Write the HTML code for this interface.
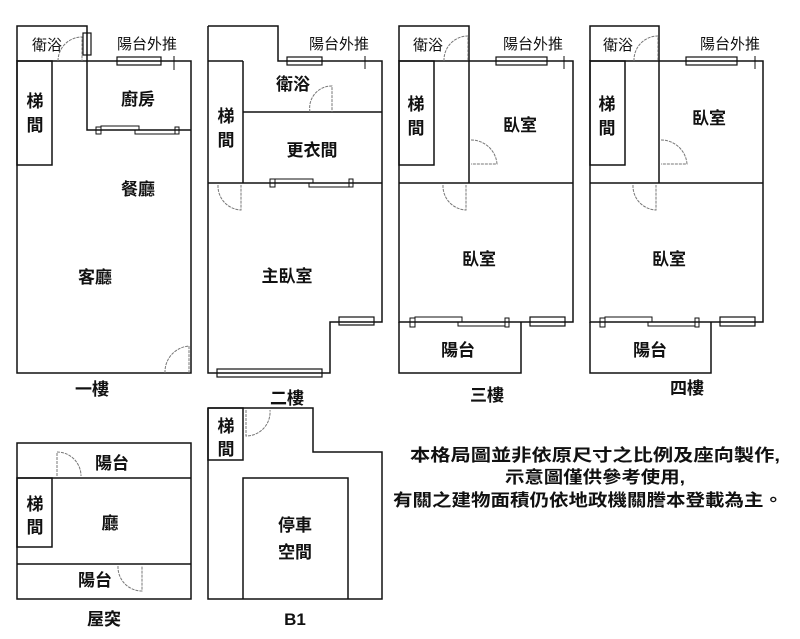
<!DOCTYPE html>
<html><head><meta charset="utf-8"><style>
html,body{margin:0;padding:0;background:#fff;}
svg{display:block}
text{font-family:"Liberation Sans","Noto Sans CJK TC",sans-serif;fill:#111;}
.l{font-size:17px;font-weight:bold;text-anchor:middle}
.s{font-size:15px;text-anchor:middle}
</style></head><body>
<svg width="800" height="639" viewBox="0 0 800 639" xmlns="http://www.w3.org/2000/svg">
<g fill="none" stroke="#111" stroke-width="1.5">
<!-- Plan 1 -->
<rect x="17" y="61" width="174" height="312"/>
<polyline points="17,61 17,26 87,26 87,130 191,130"/>
<rect x="17" y="61" width="35" height="104"/>
<rect x="117" y="57" width="44" height="8" stroke-width="1.2"/>
<line x1="174" y1="56" x2="174" y2="70" stroke-width="1"/>
<rect x="83" y="33" width="8" height="22" stroke-width="1.2"/>
<rect x="96" y="127" width="5" height="7" stroke-width="1"/>
<rect x="101" y="126" width="38" height="4" stroke-width="1"/>
<rect x="135" y="130" width="40" height="4" stroke-width="1"/>
<rect x="175" y="127" width="4" height="7" stroke-width="1"/>
<!-- Plan 2 -->
<polyline points="208,26 278,26 278,61 382,61 382,322 330,322 330,373 208,373 208,26"/>
<line x1="208" y1="61" x2="243" y2="61"/>
<line x1="243" y1="61" x2="243" y2="183"/>
<line x1="243" y1="112" x2="382" y2="112"/>
<line x1="208" y1="183" x2="382" y2="183"/>
<rect x="287" y="57" width="35" height="8" stroke-width="1.2"/>
<line x1="365" y1="56" x2="365" y2="69" stroke-width="1"/>
<rect x="217" y="369" width="105" height="8" stroke-width="1.2"/>
<rect x="339" y="317" width="35" height="8" stroke-width="1.2"/>
<rect x="270" y="179" width="5" height="8" stroke-width="1"/>
<rect x="275" y="179" width="38" height="4" stroke-width="1"/>
<rect x="309" y="183" width="40" height="4" stroke-width="1"/>
<rect x="349" y="179" width="4" height="8" stroke-width="1"/>
<!-- Plan 3 -->
<rect x="399" y="61" width="174" height="261"/>
<polyline points="399,61 399,26 469,26 469,183"/>
<line x1="399" y1="183" x2="573" y2="183"/>
<rect x="399" y="61" width="35" height="104"/>
<polyline points="399,322 399,373 521,373 521,322"/>
<rect x="496" y="57" width="51" height="8" stroke-width="1.2"/>
<line x1="564" y1="56" x2="564" y2="69" stroke-width="1"/>
<rect x="530" y="317" width="35" height="9" stroke-width="1.2"/>
<rect x="410" y="318" width="5" height="9" stroke-width="1"/>
<rect x="415" y="317" width="47" height="5" stroke-width="1"/>
<rect x="458" y="322" width="47" height="4" stroke-width="1"/>
<rect x="505" y="318" width="4" height="9" stroke-width="1"/>
<!-- Plan 4 -->
<rect x="590" y="61" width="173" height="261"/>
<polyline points="590,61 590,26 659,26 659,183"/>
<line x1="590" y1="183" x2="763" y2="183"/>
<rect x="590" y="61" width="35" height="104"/>
<polyline points="590,322 590,373 711,373 711,322"/>
<rect x="686" y="57" width="51" height="8" stroke-width="1.2"/>
<line x1="755" y1="56" x2="755" y2="69" stroke-width="1"/>
<rect x="720" y="317" width="35" height="9" stroke-width="1.2"/>
<rect x="600" y="318" width="5" height="9" stroke-width="1"/>
<rect x="605" y="317" width="47" height="5" stroke-width="1"/>
<rect x="648" y="322" width="47" height="4" stroke-width="1"/>
<rect x="695" y="318" width="4" height="9" stroke-width="1"/>
<!-- 屋突 -->
<rect x="17" y="443" width="174" height="156"/>
<line x1="17" y1="478" x2="191" y2="478"/>
<line x1="17" y1="564" x2="191" y2="564"/>
<rect x="17" y="478" width="35" height="69"/>
<!-- B1 -->
<polyline points="208,408 313,408 313,452 382,452 382,599 208,599 208,408"/>
<rect x="208" y="408" width="35" height="52"/>
<polyline points="243,599 243,478 348,478 348,599"/>
</g>
<g fill="none" stroke="#777" stroke-width="1" stroke-dasharray="3,1">
<path d="M58,61 A24,24 0 0 1 82,37 L82,61"/>
<path d="M165,373 A26,26 0 0 1 189,346 L189,373"/>
<path d="M310,112 A22,22 0 0 1 332,86 L332,112"/>
<path d="M218,185 A24,24 0 0 0 241,210 L241,185"/>
<path d="M444,61 A24,24 0 0 1 468,36 L468,61"/>
<path d="M471,140 A26,26 0 0 1 497,164 L471,164"/>
<path d="M443,185 A24,24 0 0 0 466,210 L466,185"/>
<path d="M634,61 A24,24 0 0 1 658,36 L658,61"/>
<path d="M661,140 A26,26 0 0 1 687,164 L661,164"/>
<path d="M633,185 A24,24 0 0 0 656,210 L656,185"/>
<path d="M57,476 L57,452 A24,24 0 0 1 81,476"/>
<path d="M118,566 A24,24 0 0 0 142,591 L142,566"/>
<path d="M246,410 L246,436 A24,24 0 0 0 270,410"/>
</g>
<text class="s" x="47" y="50">衛浴</text>
<text class="s" x="147" y="49">陽台外推</text>
<text class="l" x="35" y="107">梯</text><text class="l" x="35" y="131">間</text>
<text class="l" x="138" y="105">廚房</text>
<text class="l" x="138" y="195">餐廳</text>
<text class="l" x="95" y="283">客廳</text>
<text class="l" x="92" y="395">一樓</text>

<text class="s" x="339" y="49">陽台外推</text>
<text class="l" x="293" y="90">衛浴</text>
<text class="l" x="226" y="122">梯</text><text class="l" x="226" y="146">間</text>
<text class="l" x="312" y="156">更衣間</text>
<text class="l" x="287" y="282">主臥室</text>
<text class="l" x="287" y="404">二樓</text>

<text class="s" x="428" y="50">衛浴</text>
<text class="s" x="533" y="49">陽台外推</text>
<text class="l" x="416" y="110">梯</text><text class="l" x="416" y="134">間</text>
<text class="l" x="520" y="131">臥室</text>
<text class="l" x="479" y="265">臥室</text>
<text class="l" x="458" y="356">陽台</text>
<text class="l" x="487" y="401">三樓</text>

<text class="s" x="618" y="50">衛浴</text>
<text class="s" x="730" y="49">陽台外推</text>
<text class="l" x="607" y="110">梯</text><text class="l" x="607" y="134">間</text>
<text class="l" x="709" y="124">臥室</text>
<text class="l" x="669" y="265">臥室</text>
<text class="l" x="650" y="356">陽台</text>
<text class="l" x="687" y="394">四樓</text>

<text class="l" x="112" y="469">陽台</text>
<text class="l" x="35" y="510">梯</text><text class="l" x="35" y="533">間</text>
<text class="l" x="110" y="529">廳</text>
<text class="l" x="95" y="586">陽台</text>
<text class="l" x="104" y="625">屋突</text>

<text class="l" x="226" y="432">梯</text><text class="l" x="226" y="455">間</text>
<text class="l" x="295" y="531">停車</text>
<text class="l" x="295" y="558">空間</text>
<text class="l" x="295" y="625">B1</text>

<text class="l" x="595" y="461" textLength="370" lengthAdjust="spacingAndGlyphs">本格局圖並非依原尺寸之比例及座向製作,</text>
<text class="l" x="595" y="483" textLength="180" lengthAdjust="spacingAndGlyphs">示意圖僅供參考使用,</text>
<text class="l" x="588" y="506" textLength="390" lengthAdjust="spacingAndGlyphs">有關之建物面積仍依地政機關謄本登載為主。</text>
</svg>
</body></html>
